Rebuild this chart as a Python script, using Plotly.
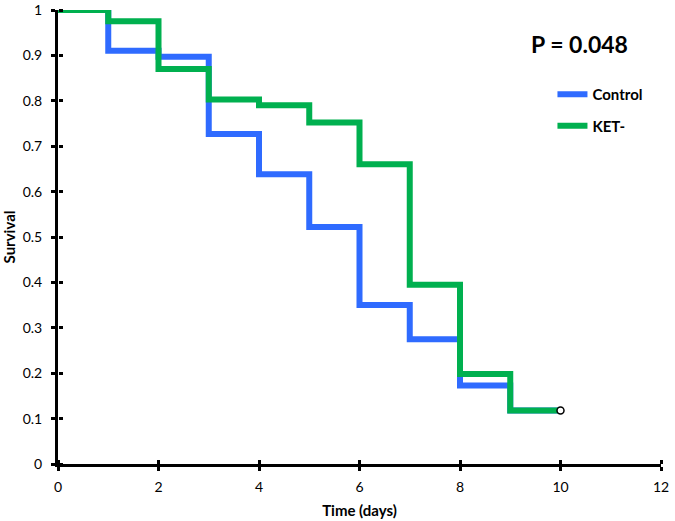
import plotly.graph_objects as go

days = [0, 1, 2, 3, 4, 5, 6, 7, 8, 9, 10]
control = [1.0, 0.91, 0.897, 0.727, 0.638, 0.522, 0.350, 0.275, 0.173, 0.118, 0.118]
ket = [1.0, 0.975, 0.870, 0.803, 0.790, 0.752, 0.660, 0.395, 0.198, 0.118, 0.118]
x_ticks = [0, 2, 4, 6, 8, 10, 12]
y_ticks = [0, 0.1, 0.2, 0.3, 0.4, 0.5, 0.6, 0.7, 0.8, 0.9, 1]
y_tick_text = ["0", "0.1", "0.2", "0.3", "0.4", "0.5", "0.6", "0.7", "0.8", "0.9", "1"]
censor_x = [10]
censor_y = [0.118]

BLUE = "#2f6bff"
GREEN = "#00b04f"
FONT = "Lato"

fig = go.Figure()
fig.add_trace(go.Scatter(x=days, y=control, mode="lines", line=dict(shape="hv", color=BLUE, width=6),
                         name="Control", legendgroup="a"))
fig.add_trace(go.Scatter(x=days, y=ket, mode="lines", line=dict(shape="hv", color=GREEN, width=6),
                         name="KET-", legendgroup="b"))
fig.add_trace(go.Scatter(x=censor_x, y=censor_y, mode="markers", showlegend=False,
                         marker=dict(symbol="circle", size=7, color="white",
                                     line=dict(color="black", width=1.5))))
# overlay axes carrying the inner half of the crossing tick marks
fig.add_trace(go.Scatter(x=[0], y=[0], xaxis="x2", yaxis="y2", mode="markers", showlegend=False,
                         marker=dict(opacity=0), hoverinfo="skip"))

axis_common = dict(showgrid=False, zeroline=False, showline=True, linecolor="black", linewidth=3,
                   ticks="outside", ticklen=4, tickwidth=2.5, tickcolor="black", automargin=False,
                   tickfont=dict(size=14, family=FONT))
inner_common = dict(showticklabels=False, showgrid=False, zeroline=False, showline=False,
                    ticks="outside", ticklen=4, tickwidth=2.5, tickcolor="black", automargin=False,
                    anchor="free", position=0)

fig.update_layout(
    width=675, height=521,
    margin=dict(l=58, r=14, t=10, b=57),
    paper_bgcolor="white", plot_bgcolor="white",
    font=dict(family=FONT, size=14, color="black"),
    xaxis=dict(range=[0, 12], tickvals=x_ticks, ticktext=[str(v) for v in x_ticks],
               title=dict(text="<b>Time (days)</b>", font=dict(size=15), standoff=12),
               ticklabelstandoff=4, **axis_common),
    yaxis=dict(range=[0, 1], tickvals=y_ticks, ticktext=y_tick_text,
               title=dict(text="<b>Survival</b>", font=dict(size=15), standoff=8),
               ticklabelstandoff=6, **axis_common),
    xaxis2=dict(overlaying="x", side="top", range=[0, 12], tickvals=x_ticks, **inner_common),
    yaxis2=dict(overlaying="y", side="right", range=[0, 1], tickvals=y_ticks, **inner_common),
    legend=dict(x=0.82, y=0.85, xanchor="left", yanchor="top", bgcolor="rgba(0,0,0,0)",
                font=dict(size=15, family=FONT, weight="bold"), itemwidth=30,
                traceorder="grouped", tracegroupgap=9),
    annotations=[dict(text="<b>P = 0.048</b>", x=0.865, y=0.925, xref="paper", yref="paper",
                      showarrow=False, font=dict(size=23, family=FONT), xanchor="center", yanchor="middle")],
)
fig.write_html("out.html", config={"displayModeBar": False},
               post_script="document.body.style.margin='0';")
